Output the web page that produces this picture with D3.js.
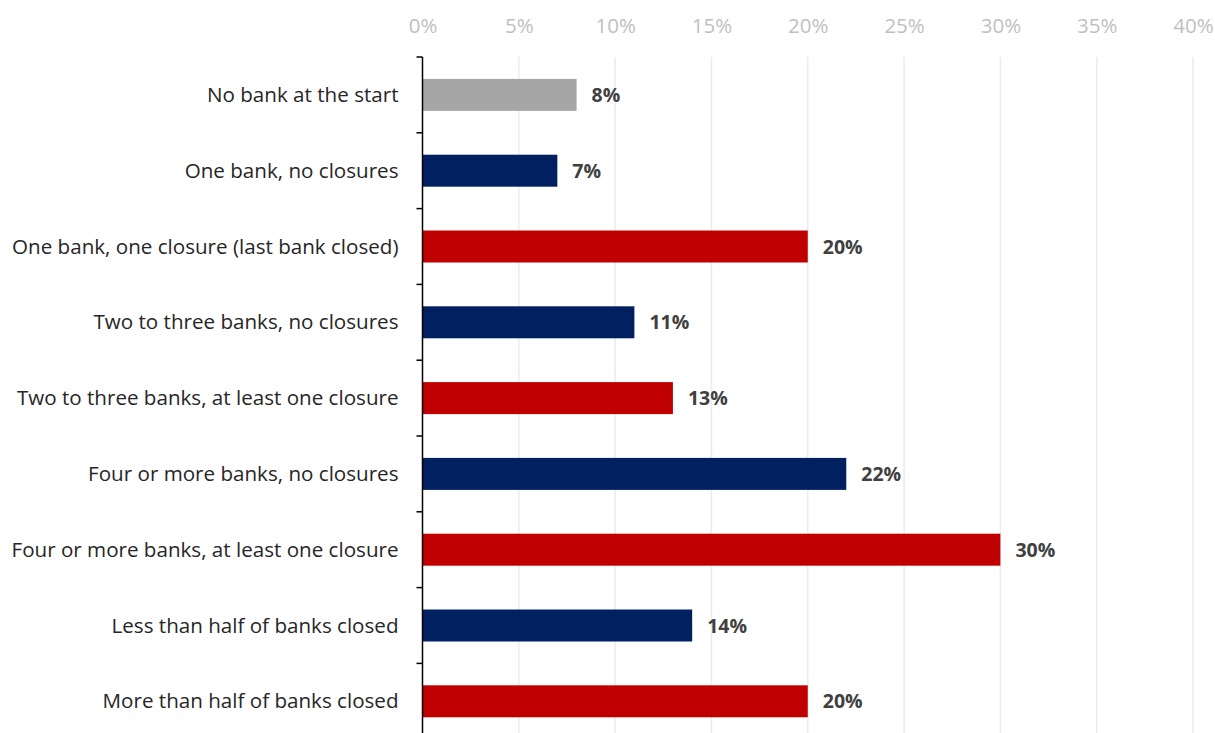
<!DOCTYPE html>
<html>
<head>
<meta charset="utf-8">
<script src="https://cdn.jsdelivr.net/npm/d3@7"></script>
<style>
  html, body { margin: 0; padding: 0; background: #fff; }
  svg { display: block; }
</style>
</head>
<body>
<svg id="chart" width="1215" height="733"></svg>
<script>
// Share of areas by bank presence / closure status
const categories = [
  "No bank at the start",
  "One bank, no closures",
  "One bank, one closure (last bank closed)",
  "Two to three banks, no closures",
  "Two to three banks, at least one closure",
  "Four or more banks, no closures",
  "Four or more banks, at least one closure",
  "Less than half of banks closed",
  "More than half of banks closed"
];
const values = [8, 7, 20, 11, 13, 22, 30, 14, 20];
const groups = ["none", "open", "closed", "open", "closed", "open", "closed", "open", "closed"];
const tickValues = [0, 5, 10, 15, 20, 25, 30, 35, 40];

const colour = d3.scaleOrdinal()
  .domain(["none", "open", "closed"])
  .range(["#a6a6a6", "#002060", "#c00000"]);

const svg = d3.select("#chart");
const font = "'Open Sans', sans-serif";

const x = d3.scaleLinear().domain([0, 40]).range([422.5, 1193]);
const y = d3.scaleBand().domain(categories).range([57, 57 + 75.8 * categories.length]).paddingInner(0.578).paddingOuter(0.289);

// vertical gridlines
svg.append("g")
  .selectAll("line")
  .data(tickValues.slice(1))
  .join("line")
  .attr("x1", d => x(d)).attr("x2", d => x(d))
  .attr("y1", 57).attr("y2", 733)
  .attr("stroke", "#ebebeb").attr("stroke-width", 1.5);

// top value axis (labels only)
const xAxis = svg.append("g")
  .attr("transform", "translate(0,33)")
  .call(d3.axisTop(x).tickValues(tickValues).tickFormat(d => d + "%").tickSize(0).tickPadding(0));
xAxis.select(".domain").remove();
xAxis.selectAll("text")
  .attr("fill", "#bfbfbf")
  .attr("font-family", font)
  .attr("font-size", 20.5)
  .attr("dy", "0em");

// bars
svg.append("g")
  .selectAll("rect")
  .data(categories)
  .join("rect")
  .attr("x", x(0))
  .attr("y", d => y(d))
  .attr("width", (d, i) => x(values[i]) - x(0))
  .attr("height", y.bandwidth())
  .attr("fill", (d, i) => colour(groups[i]));

// value labels
svg.append("g")
  .selectAll("text")
  .data(categories)
  .join("text")
  .attr("x", (d, i) => x(values[i]) + 15)
  .attr("y", d => y(d) + y.bandwidth() / 2)
  .attr("dy", "0.36em")
  .attr("font-family", font)
  .attr("font-size", 19.5)
  .attr("font-weight", "bold")
  .attr("fill", "#404040")
  .text((d, i) => values[i] + "%");

// category axis with ticks between bands
const yAxis = svg.append("g").attr("transform", `translate(${x(0)},0)`);
yAxis.append("line")
  .attr("x1", 0).attr("x2", 0)
  .attr("y1", 57).attr("y2", 740)
  .attr("stroke", "#000").attr("stroke-width", 1.5);
yAxis.selectAll("line.tick")
  .data(d3.range(categories.length + 1))
  .join("line")
  .attr("class", "tick")
  .attr("x1", -6).attr("x2", 0)
  .attr("y1", i => 57 + y.step() * i)
  .attr("y2", i => 57 + y.step() * i)
  .attr("stroke", "#000").attr("stroke-width", 1.5);
yAxis.selectAll("text")
  .data(categories)
  .join("text")
  .attr("x", -24)
  .attr("y", d => y(d) + y.bandwidth() / 2)
  .attr("dy", "0.34em")
  .attr("text-anchor", "end")
  .attr("font-family", font)
  .attr("font-size", 20.6)
  .attr("fill", "#262626")
  .text(d => d);
</script>
</body>
</html>
